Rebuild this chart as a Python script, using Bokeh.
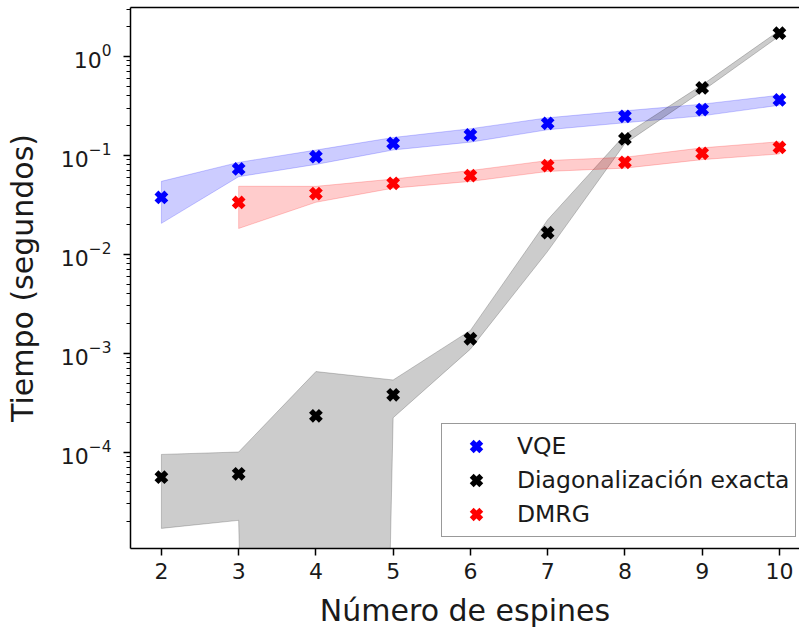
from bokeh.plotting import figure
from bokeh.models import Range1d, LinearAxis, FixedTicker, Legend, LegendItem
from bokeh.embed import file_html
from bokeh.resources import INLINE

# ---------------- data ----------------
espines = [2, 3, 4, 5, 6, 7, 8, 9, 10]
vqe_mean = [0.0375, 0.0727, 0.0968, 0.132, 0.1604, 0.210, 0.247, 0.289, 0.362]
vqe_std = [0.017, 0.012, 0.016, 0.019, 0.0248, 0.029, 0.034, 0.039, 0.042]

exact_mean = [5.6e-5, 6.05e-5, 2.33e-4, 3.8e-4, 1.4e-3, 0.0165, 0.146, 0.479, 1.71]
exact_std = [3.9e-5, 4.0e-5, 4.2e-4, 1.57e-4, 0.3e-3, 0.0058, 0.015, 0.035, 0.11]

dmrg_x = [3, 4, 5, 6, 7, 8, 9, 10]
dmrg_mean = [0.0334, 0.041, 0.052, 0.0622, 0.0785, 0.0848, 0.1045, 0.120]
dmrg_std = [0.0152, 0.0075, 0.0055, 0.0078, 0.0099, 0.0107, 0.0142, 0.017]

x_ticks = [2, 3, 4, 5, 6, 7, 8, 9, 10]
y_ticks = [1e-4, 1e-3, 1e-2, 1e-1, 1.0]

FONT = "DejaVu Sans"
TINY = 1e-40  # stands in for non-positive values on the log scale (clipped)

p = figure(width=799, height=630, y_axis_type="log",
           x_range=Range1d(1.6, 10.26), y_range=Range1d(1.065e-5, 3.108),
           output_backend="svg", toolbar_location=None,
           min_border_left=130, min_border_right=0, min_border_top=7,
           min_border_bottom=82)
p.outline_line_color = None
p.grid.visible = False
p.background_fill_color = "white"


def band(xs, mean, std, color):
    lo = [max(m - s, TINY) for m, s in zip(mean, std)]
    hi = [m + s for m, s in zip(mean, std)]
    p.patch(list(xs) + list(xs)[::-1], hi + lo[::-1],
            fill_color=color, fill_alpha=0.2,
            line_color=color, line_alpha=0.2, line_width=1)


band(espines, vqe_mean, vqe_std, "blue")
band(espines, exact_mean, exact_std, "black")
band(dmrg_x, dmrg_mean, dmrg_std, "red")

MS = 14
MW = 5.5
r_vqe = p.scatter(espines, vqe_mean, marker="x", size=MS, line_width=MW, line_color="blue")
r_ex = p.scatter(espines, exact_mean, marker="x", size=MS, line_width=MW, line_color="black")
r_dm = p.scatter(dmrg_x, dmrg_mean, marker="x", size=MS, line_width=MW, line_color="red")

# axes styling
for ax in (p.xaxis[0], p.yaxis[0]):
    ax.axis_line_width = 1.5
    ax.major_tick_line_width = 1.5
    ax.major_tick_out = 7
    ax.major_tick_in = 0
    ax.minor_tick_out = 4
    ax.minor_tick_in = 0
    ax.minor_tick_line_width = 1.1
    ax.major_label_text_font = FONT
    ax.major_label_text_font_size = "22px"
    ax.major_label_text_color = "#1a1a1a"
    ax.axis_label_text_font = FONT
    ax.axis_label_text_font_size = "30px"
    ax.axis_label_text_font_style = "normal"
    ax.axis_label_text_color = "#1a1a1a"

p.xaxis.ticker = FixedTicker(ticks=x_ticks)
p.xaxis.minor_tick_line_color = None
p.xaxis.axis_label = "Número de espines"
p.xaxis.major_label_standoff = 7
p.xaxis.axis_label_standoff = 11

minor = [k * 10.0 ** e for e in range(-5, 1) for k in range(2, 10)]
p.yaxis.ticker = FixedTicker(ticks=y_ticks, minor_ticks=minor)
p.yaxis.axis_label = "Tiempo (segundos)"
p.yaxis.major_label_standoff = 12
p.yaxis.axis_label_standoff = 18

# top spine
top = LinearAxis(ticker=FixedTicker(ticks=[]), axis_line_width=1.5,
                 major_label_text_font_size="0px", major_tick_out=0,
                 minor_tick_out=0, major_tick_in=0, minor_tick_in=0)
p.add_layout(top, "above")

legend = Legend(items=[LegendItem(label="VQE", renderers=[r_vqe]),
                       LegendItem(label="Diagonalización exacta", renderers=[r_ex]),
                       LegendItem(label="DMRG", renderers=[r_dm])],
                location=(311, 11), margin=0, padding=5, spacing=0,
                glyph_width=58, glyph_height=34, label_standoff=12,
                label_text_font=FONT, label_text_font_size="23.5px",
                label_text_color="#1a1a1a",
                border_line_color="#333333", border_line_width=1,
                background_fill_color="white", background_fill_alpha=0.8)
p.add_layout(legend)

open("out.html", "w").write(file_html(p, INLINE))
